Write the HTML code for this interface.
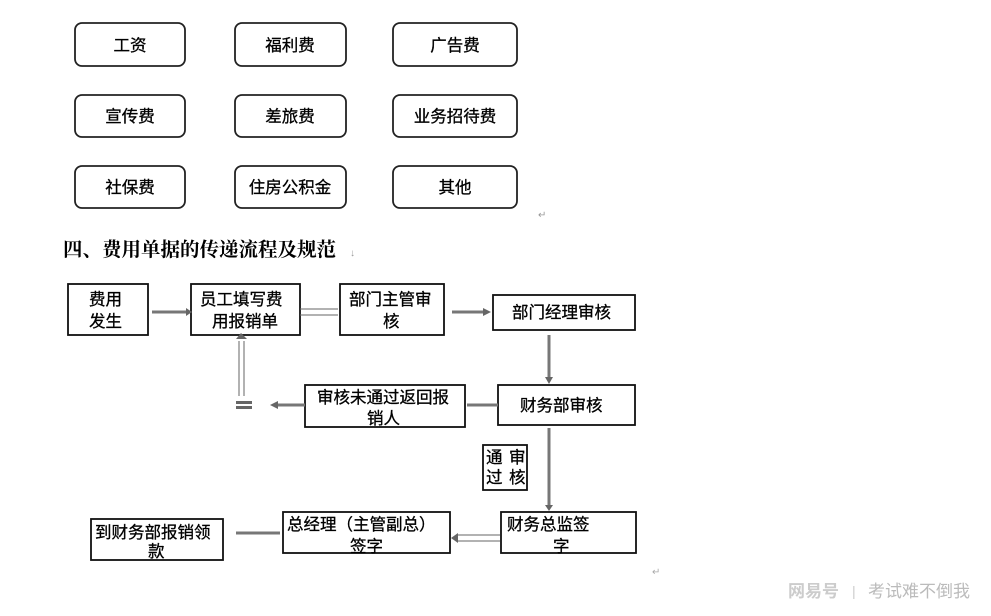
<!DOCTYPE html>
<html><head><meta charset="utf-8"><style>
body{margin:0;background:#fff;width:991px;height:611px;overflow:hidden;}
svg text{font-family:"Liberation Sans","Noto Sans CJK SC",sans-serif;fill:#000;}
</style></head><body>
<svg width="991" height="611" xmlns="http://www.w3.org/2000/svg">
<g fill="#fff" stroke="#222" stroke-width="1.8">
<rect x="75" y="23" width="110" height="43" rx="7"/>
<rect x="235" y="23" width="111" height="43" rx="7"/>
<rect x="393" y="23" width="124" height="43" rx="7"/>
<rect x="75" y="95" width="110" height="42" rx="7"/>
<rect x="235" y="95" width="111" height="42" rx="7"/>
<rect x="393" y="95" width="124" height="42" rx="7"/>
<rect x="75" y="166" width="110" height="42" rx="7"/>
<rect x="235" y="166" width="111" height="42" rx="7"/>
<rect x="393" y="166" width="124" height="42" rx="7"/>
</g>
<g font-size="16.5" text-anchor="middle" style="stroke:#000;stroke-width:0.3">
<text x="130" y="51">工资</text><text x="290" y="51">福利费</text><text x="455" y="51">广告费</text>
<text x="130" y="122">宣传费</text><text x="290" y="122">差旅费</text><text x="455" y="122">业务招待费</text>
<text x="130" y="193">社保费</text><text x="290" y="193">住房公积金</text><text x="455" y="193">其他</text>
</g>
<text x="538" y="218" font-size="10" style="fill:#999">↵</text>
<text x="63" y="256" font-size="19.5" font-weight="bold" style="font-family:'Liberation Serif','Noto Serif CJK SC',serif">四、费用单据的传递流程及规范</text>
<text x="350" y="256" font-size="10" style="fill:#999">↓</text>

<g fill="#fff" stroke="#111" stroke-width="1.8">
<rect x="68" y="284" width="80" height="51"/>
<rect x="191" y="284" width="109" height="51"/>
<rect x="340" y="284" width="104" height="51"/>
<rect x="493" y="295" width="142" height="35"/>
<rect x="498" y="385" width="137" height="40"/>
<rect x="305" y="385" width="160" height="42"/>
<rect x="483" y="445" width="44" height="45"/>
<rect x="501" y="512" width="135" height="41"/>
<rect x="283" y="512" width="167" height="41"/>
<rect x="91" y="519" width="132" height="41"/>
</g>
<g font-size="16.5" style="stroke:#000;stroke-width:0.3">
<text x="89" y="305">费用</text><text x="89" y="327">发生</text>
<text x="200" y="305">员工填写费</text><text x="212" y="327">用报销单</text>
<text x="349" y="305">部门主管审</text><text x="383" y="327">核</text>
<text x="512" y="318">部门经理审核</text>
<text x="520" y="411">财务部审核</text>
<text x="317" y="403">审核未通过返回报</text><text x="367" y="424">销人</text>
<text x="486" y="463">通</text><text x="509" y="463">审</text>
<text x="486" y="483">过</text><text x="509" y="483">核</text>
<text x="507" y="530">财务总监签</text><text x="553" y="552">字</text>
<text x="287" y="530">总经理（主管副总）</text><text x="350" y="552">签字</text>
<text x="95" y="538">到财务部报销领</text><text x="148" y="557">款</text>
</g>
<g stroke="#777" stroke-width="3" fill="none">
<line x1="152" y1="312" x2="186" y2="312"/>
<line x1="452" y1="312" x2="483" y2="312"/>
<line x1="549" y1="335" x2="549" y2="377"/>
<line x1="549" y1="428" x2="549" y2="505"/>
<line x1="467" y1="405" x2="498" y2="405"/>
<line x1="278" y1="405" x2="305" y2="405"/>
<line x1="236" y1="533" x2="280" y2="533"/>
</g>
<g stroke="#666" stroke-width="1" fill="none">
<line x1="300" y1="309" x2="338" y2="309"/><line x1="300" y1="315" x2="338" y2="315"/>
<line x1="239" y1="341" x2="239" y2="396"/><line x1="244" y1="341" x2="244" y2="396"/>
<line x1="458" y1="535" x2="500" y2="535"/><line x1="458" y1="541" x2="500" y2="541"/>
</g>
<g fill="#666">
<polygon points="186,308 192,312 186,316"/>
<polygon points="483,308 491,312 483,316"/>
<polygon points="545,377 549,384 553,377"/>
<polygon points="545,505 549,511 553,505"/>
<polygon points="278,401 270,405 278,409"/>
<polygon points="236,339 241,333 247,339"/>
<polygon points="458,533 451,538 458,543"/>
<rect x="236" y="401" width="16" height="3"/><rect x="236" y="406" width="16" height="3"/>
</g>
<text x="652" y="575" font-size="10" style="fill:#aaa">↵</text>
<text x="788" y="597" font-size="17" font-weight="bold" style="fill:#ccc">网易号</text>
<text x="852" y="596" font-size="14" style="fill:#ccc">|</text>
<text x="868" y="597" font-size="17" style="fill:#bbb">考试难不倒我</text>
</svg>
</body></html>
